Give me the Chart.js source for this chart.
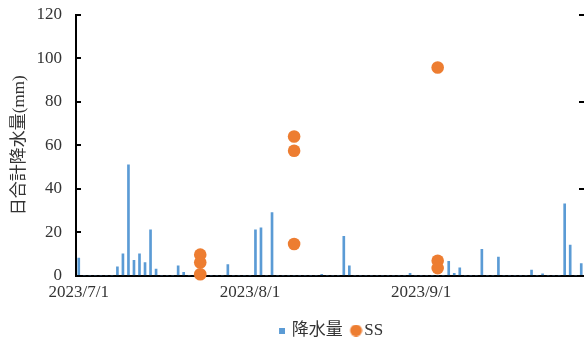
<!DOCTYPE html>
<html>
<head>
<meta charset="utf-8">
<script src="https://cdn.jsdelivr.net/npm/chart.js@4/dist/chart.umd.min.js"></script>
<style>
  html, body { margin: 0; padding: 0; background: #ffffff; }
  #wrap { width: 584px; height: 344px; overflow: hidden; position: relative; background: #ffffff; }
  canvas { display: block; }
</style>
</head>
<body>
<div id="wrap"><canvas id="c" width="660" height="344" style="width:660px;height:344px"></canvas></div>
<script>
// ---- data ----
const months = [7, 8, 9];
const monthDays = [31, 31, 30];
const year = 2023;
const categories = [];
months.forEach((m, i) => { for (let d = 1; d <= monthDays[i]; d++) categories.push(year + '/' + m + '/' + d); });

// daily rainfall (mm), 2023/7/1 .. 2023/9/30
const rain = [
  8, 0, 0, 0, 0, 0, 0, 4, 10, 51,
  7, 10, 6, 21, 3, 0, 0, 0, 4.5, 1.5,
  0, 0, 0, 0, 0, 0, 0, 5, 0, 0,
  0, 0, 21, 22, 0, 29, 0, 0, 0, 0,
  0, 0, 0, 0, 0.5, 0, 0, 0, 18, 4.5,
  0, 0, 0, 0, 0, 0, 0, 0, 0, 0,
  1, 0, 0, 0, 0, 0, 0, 6.5, 1, 3.5,
  0, 0, 0, 12, 0, 0, 8.5, 0, 0, 0,
  0, 0, 2.5, 0, 0.8, 0, 0, 0, 33, 14,
  0, 5.5
];

// SS samples (plotted in the left-axis units)
const ssDates = ['2023/7/23', '2023/7/23', '2023/7/23', '2023/8/9', '2023/8/9', '2023/8/9', '2023/9/4', '2023/9/4', '2023/9/4'];
const ssValues = [9.6, 6.0, 0.6, 64, 57.5, 14.5, 95.8, 6.8, 3.4];

const seriesNames = ['降水量', 'SS'];
const yTitle = '日合計降水量(mm)';
const yMin = 0, yMax = 120, yStep = 20;

// ---- styles ----
const BLUE = '#5B9BD5';
const ORANGE = '#ED7D31';
const TXT = '#333333';
const FONT = "'Liberation Serif', 'Noto Sans CJK JP', serif";

function makeSquare() {
  const c = document.createElement('canvas');
  c.width = 10; c.height = 6;
  const g = c.getContext('2d');
  g.fillStyle = BLUE; g.fillRect(4, 0, 6, 6);
  return c;
}
function makeDot() {
  const c = document.createElement('canvas');
  c.width = 20; c.height = 12;
  const g = c.getContext('2d');
  g.fillStyle = ORANGE; g.beginPath(); g.arc(13.5, 6, 6, 0, Math.PI * 2); g.fill();
  return c;
}
const sqImg = makeSquare();
const dotImg = makeDot();

const innerTicks = {
  id: 'innerTicks',
  afterDraw(chart) {
    const ctx = chart.ctx;
    const ya = chart.scales.y, yb = chart.scales.y2;
    ctx.save();
    ctx.strokeStyle = '#000';
    ctx.lineWidth = 2;
    ya.ticks.forEach((t, i) => {
      const py = Math.round(ya.getPixelForTick(i));
      ctx.beginPath(); ctx.moveTo(ya.right, py); ctx.lineTo(ya.right + 5, py); ctx.stroke();
    });
    yb.ticks.forEach((t, i) => {
      const py = Math.round(yb.getPixelForTick(i));
      ctx.beginPath(); ctx.moveTo(yb.left - 5, py); ctx.lineTo(yb.left, py); ctx.stroke();
    });
    ctx.restore();
  }
};

new Chart(document.getElementById('c'), {
  type: 'bar',
  data: {
    labels: categories,
    datasets: [
      {
        label: seriesNames[0],
        data: rain,
        backgroundColor: BLUE,
        borderWidth: 0,
        barThickness: 2,
        yAxisID: 'y',
        order: 1
      },
      {
        type: 'line',
        label: seriesNames[1],
        data: ssDates.map((d, i) => ({ x: d, y: ssValues[i] })),
        showLine: false,
        pointRadius: 6.3,
        pointHoverRadius: 6.3,
        pointBackgroundColor: ORANGE,
        pointBorderWidth: 0,
        borderColor: ORANGE,
        yAxisID: 'y2',
        clip: false,
        order: 0
      }
    ]
  },
  options: {
    responsive: false,
    animation: false,
    devicePixelRatio: 1,
    layout: { autoPadding: false, padding: { top: 15, left: 0, right: 0, bottom: -5 } },
    plugins: {
      tooltip: { enabled: false },
      legend: {
        position: 'bottom',
        labels: {
          usePointStyle: true,
          boxWidth: 6.5,
          boxHeight: 6,
          padding: 6.5,
          color: TXT,
          font: { family: FONT, size: 17 },
          generateLabels: () => [
            { text: seriesNames[0], pointStyle: sqImg, fillStyle: BLUE, strokeStyle: BLUE, lineWidth: 0, hidden: false, datasetIndex: 0, fontColor: TXT },
            { text: seriesNames[1], pointStyle: dotImg, fillStyle: ORANGE, strokeStyle: ORANGE, lineWidth: 0, hidden: false, datasetIndex: 1, fontColor: TXT }
          ]
        }
      }
    },
    scales: {
      x: {
        type: 'category',
        offset: true,
        grid: { drawOnChartArea: false, drawTicks: false },
        border: { display: true, color: '#000', width: 2 },
        ticks: {
          autoSkip: false,
          maxRotation: 0,
          minRotation: 0,
          padding: 7,
          color: TXT,
          font: { family: FONT, size: 17 },
          callback: function (v) {
            const l = this.getLabelForValue(v);
            return l.split('/')[2] === '1' ? l : '';
          }
        },
        afterFit: s => { s.height = 40; }
      },
      y: {
        position: 'left',
        min: yMin,
        max: yMax,
        grid: { drawOnChartArea: false, drawTicks: false },
        border: { display: true, color: '#000', width: 2 },
        ticks: { stepSize: yStep, padding: 14, color: TXT, font: { family: FONT, size: 17 } },
        title: { display: true, text: yTitle, color: TXT, font: { family: FONT, size: 17 }, padding: { top: 9, bottom: 0 } },
        afterFit: s => { s.width = 76; s.paddingTop = 0; s.paddingBottom = 0; }
      },
      y2: {
        position: 'right',
        min: yMin,
        max: yMax,
        grid: { drawOnChartArea: false, drawTicks: false },
        border: { display: false },
        ticks: { stepSize: 40, padding: 10, color: TXT, font: { family: FONT, size: 17 } },
        afterFit: s => { s.width = 76; s.paddingTop = 0; s.paddingBottom = 0; }
      }
    }
  },
  plugins: [innerTicks]
});
</script>
</body>
</html>
